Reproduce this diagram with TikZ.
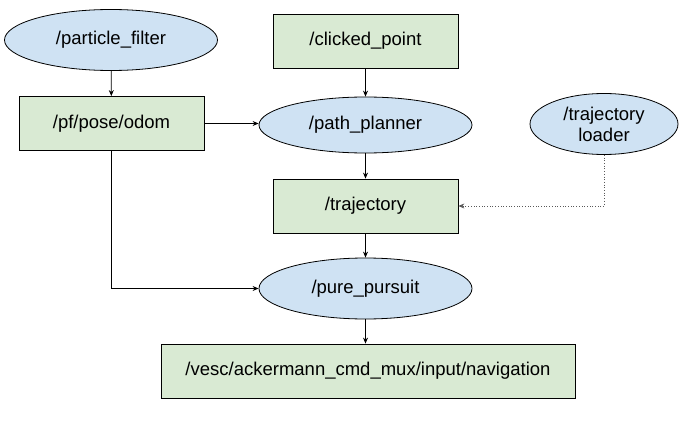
\documentclass[tikz,border=0pt]{standalone}
\usepackage{fontspec}
\setmainfont{Liberation Sans}
\usetikzlibrary{shapes.geometric,arrows.meta}
\definecolor{topicgreen}{HTML}{D9EAD3}
\definecolor{nodeblue}{HTML}{CFE2F3}

\begin{document}
\begin{tikzpicture}[x=1pt,y=-1pt,
   topic/.style={draw=black,fill=topicgreen,line width=0.8pt,inner sep=0pt,
      minimum width=185pt,minimum height=54pt,font=\fontsize{18.5}{21}\selectfont},
   rosnode/.style={ellipse,draw=black,fill=nodeblue,line width=0.8pt,inner sep=0pt,
      minimum width=213pt,minimum height=58pt,font=\fontsize{18.5}{21}\selectfont},
   link/.style={line width=0.8pt,-{Stealth[length=6pt,width=5pt]}},
   loadlink/.style={line width=0.7pt,draw=black!65,dotted,-{Stealth[length=6pt,width=5pt]}}]

   \useasboundingbox (0,0) rectangle (685,433);

   \node[rosnode,minimum height=61pt] (pf) at (111,40) {/particle\_filter};
   \node[topic] (odom) at (111.5,123.5) {/pf/pose/odom};
   \node[topic] (clicked) at (365.5,41) {/clicked\_point};
   \node[rosnode,minimum height=56pt] (planner) at (365.5,125) {/path\_planner};
   \node[rosnode,minimum width=148pt,minimum height=61pt,align=center] (loader) at (604,124) {/trajectory\\loader};
   \node[topic] (traj) at (365.5,206) {/trajectory};
   \node[rosnode,minimum height=61pt] (pursuit) at (365.5,288.5) {/pure\_pursuit};
   \node[topic,minimum width=414pt] (vesc) at (368,371) {/vesc/ackermann\_cmd\_mux/input/navigation};

   \draw[link] (pf) -- (odom);
   \draw[link] (odom.east) -- (planner.west |- odom.east);
   \draw[link] (clicked) -- (planner);
   \draw[link] (planner) -- (traj);
   \draw[loadlink] (loader.south) |- (traj.east);
   \draw[link] (traj) -- (pursuit);
   \draw[link] (odom.south) |- (pursuit.west);
   \draw[link] (pursuit.south) -- (pursuit.south |- vesc.north);

\end{tikzpicture}
\end{document}
